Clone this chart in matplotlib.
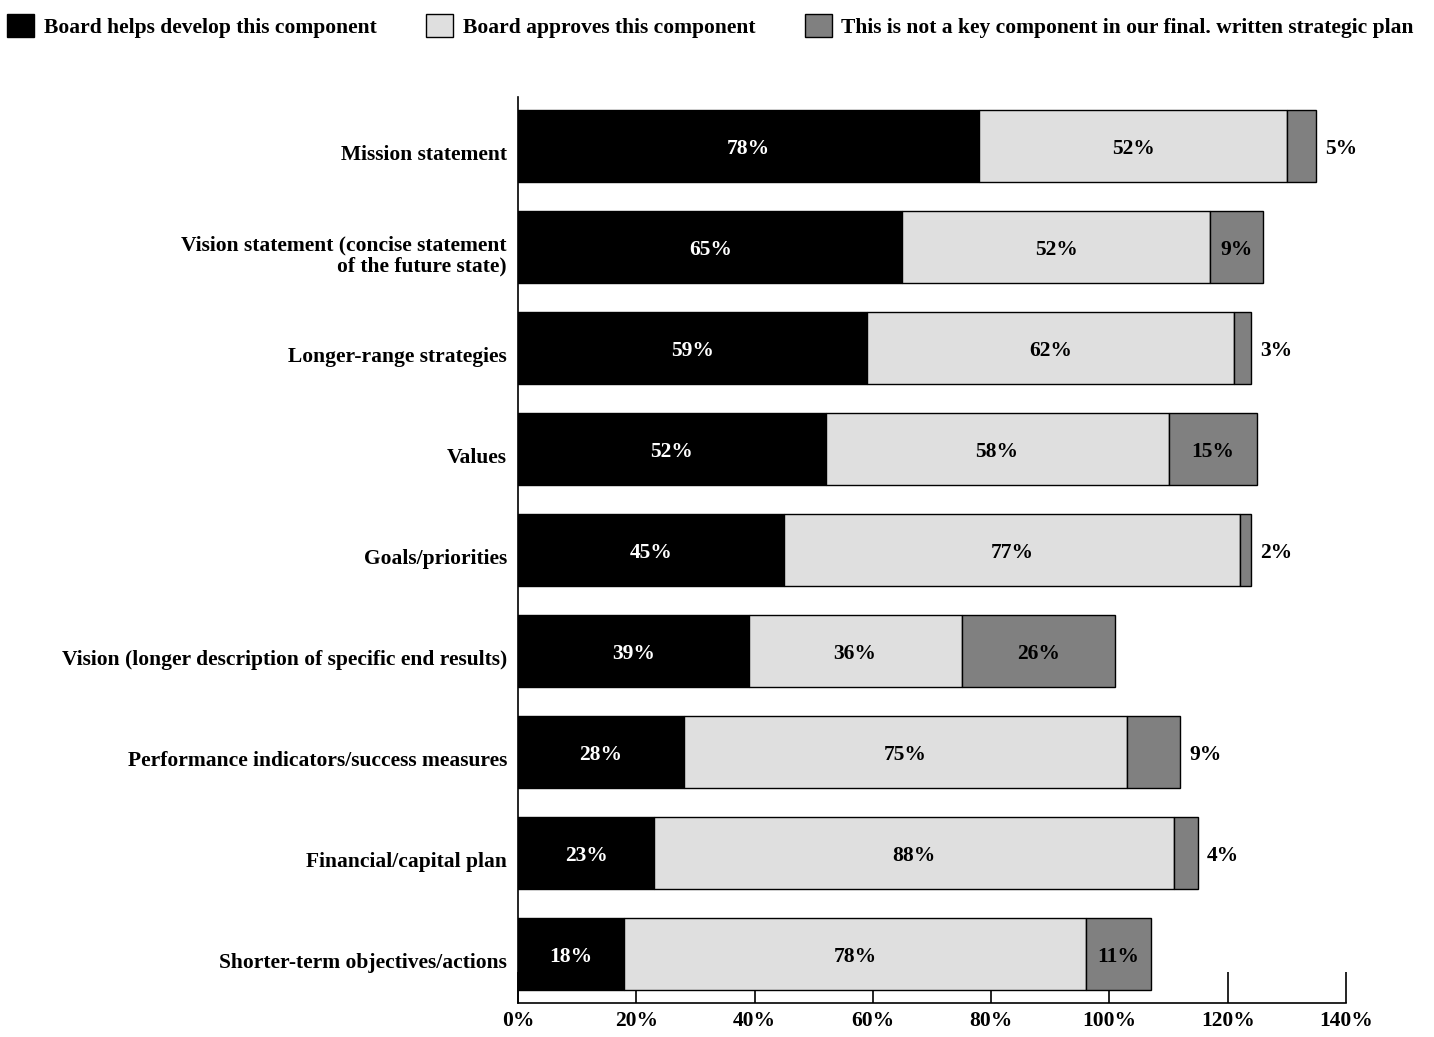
import numpy as np
import matplotlib.pyplot as plt

plt.rcParams['font.family'] = ['Liberation Serif', 'DejaVu Serif']
plt.rcParams['font.weight'] = 'bold'

categories = [
    "Mission statement",
    "Vision statement (concise statement\nof the future state)",
    "Longer-range strategies",
    "Values",
    "Goals/priorities",
    "Vision (longer description of specific end results)",
    "Performance indicators/success measures",
    "Financial/capital plan",
    "Shorter-term objectives/actions",
]
develop = [78, 65, 59, 52, 45, 39, 28, 23, 18]
approve = [52, 52, 62, 58, 77, 36, 75, 88, 78]
not_key = [5, 9, 3, 15, 2, 26, 9, 4, 11]
# third label drawn outside the bar
outside = [True, False, True, False, True, False, True, True, False]

series_names = ["Board helps develop this component",
                "Board approves this component",
                "This is not a key component in our final. written strategic plan"]
colors = ["#000000", "#dfdfdf", "#808080"]

fig = plt.figure(figsize=(14.34, 10.37), dpi=100)
ax = fig.add_axes([518/1434, 1-1003/1037, 828/1434, 906/1037])

y = np.arange(len(categories))
develop = np.array(develop)
approve = np.array(approve)
not_key = np.array(not_key)

h = 0.72
b1 = ax.barh(y, develop, height=h, color=colors[0], edgecolor='black', linewidth=1, zorder=3, label=series_names[0])
b2 = ax.barh(y, approve, left=develop, height=h, color=colors[1], edgecolor='black', linewidth=1, zorder=3, label=series_names[1])
b3 = ax.barh(y, not_key, left=develop+approve, height=h, color=colors[2], edgecolor='black', linewidth=1, zorder=3, label=series_names[2])

fs = 15.5
dy = 0.03
for i in range(len(categories)):
    ax.text(develop[i]/2, y[i] + dy, f"{develop[i]}%", ha='center', va='center', color='white', fontsize=fs, fontweight='bold', zorder=4)
    ax.text(develop[i] + approve[i]/2, y[i] + dy, f"{approve[i]}%", ha='center', va='center', color='black', fontsize=fs, fontweight='bold', zorder=4)
    tot = develop[i] + approve[i] + not_key[i]
    if outside[i]:
        ax.text(tot + 1.5, y[i] + dy, f"{not_key[i]}%", ha='left', va='center', color='black', fontsize=fs, fontweight='bold', zorder=4)
    else:
        ax.text(develop[i] + approve[i] + not_key[i]/2, y[i] + dy, f"{not_key[i]}%", ha='center', va='center', color='black', fontsize=fs, fontweight='bold', zorder=4)

ax.set_yticks(y + 0.06)
ax.set_yticklabels(categories, fontsize=fs, fontweight='bold', linespacing=1.05)
ax.tick_params(axis='y', length=0, pad=8)
ax.set_ylim(len(categories) - 1 + 0.485, -0.485)

ax.set_xlim(0, 140)
ax.set_xticks(np.arange(0, 141, 20))
ax.set_xticklabels([f"{v}%" for v in range(0, 141, 20)], fontsize=fs, fontweight='bold')
ax.tick_params(axis='x', direction='in', length=22, width=1.2, pad=6)

for s in ['top', 'right']:
    ax.spines[s].set_visible(False)
ax.spines['left'].set_linewidth(1.2)
ax.spines['bottom'].set_linewidth(1.2)
ax.spines['bottom'].set_zorder(5)

fig.legend(handles=[b1, b2, b3], labels=series_names, loc='upper left',
           bbox_to_anchor=(-0.004, 0.999), ncol=3, frameon=False, fontsize=fs,
           handlelength=1.25, handleheight=1.3, handletextpad=0.45, columnspacing=2.3,
           borderaxespad=0.2)

fig.savefig("out.png", dpi=100)
